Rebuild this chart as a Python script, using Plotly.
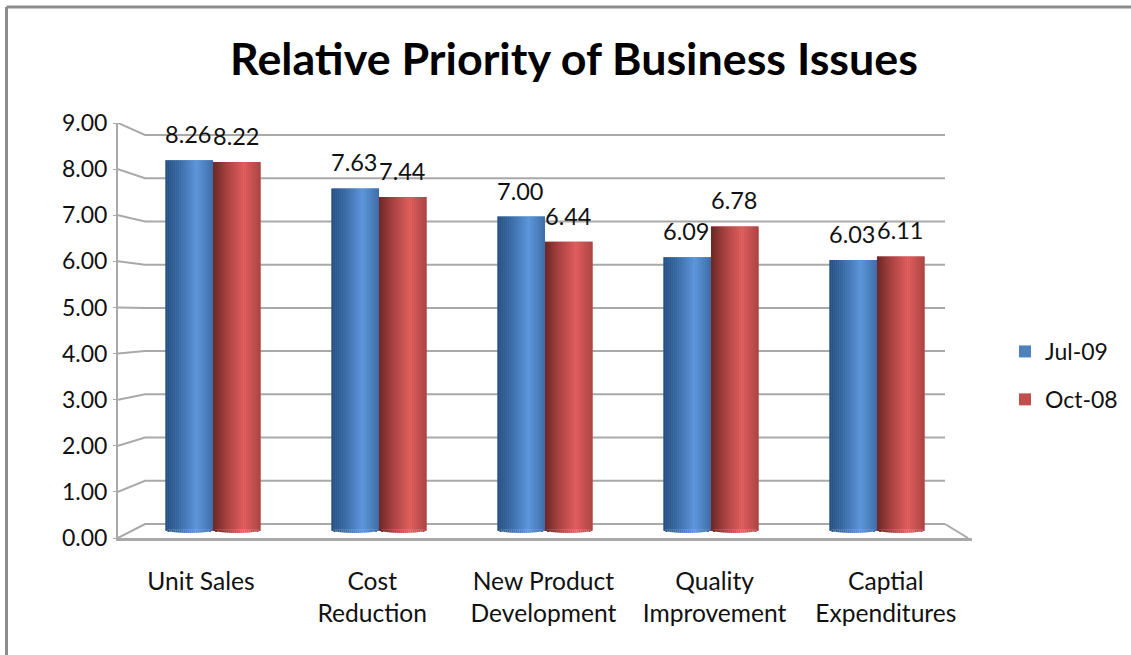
import plotly.graph_objects as go

W, H = 1131, 655
FONT = "Lato"
TEXT = "#111111"
GRID = "#a9a9a9"

# Chart data
categories = ["Unit Sales", "Cost<br>Reduction", "New Product<br>Development",
              "Quality<br>Improvement", "Captial<br>Expenditures"]
series_names = ["Jul-09", "Oct-08"]
jul_09 = [8.26, 7.63, 7.00, 6.09, 6.03]
oct_08 = [8.22, 7.44, 6.44, 6.78, 6.11]
value_ticks = [0, 1, 2, 3, 4, 5, 6, 7, 8, 9]

# Cylinder shading: (position across the bar, colour)
blue_stops = [(0, (36, 78, 125)), (0.3, (58, 107, 165)), (0.65, (94, 151, 221)), (1, (62, 110, 168))]
red_stops = [(0, (107, 39, 37)), (0.3, (168, 66, 66)), (0.65, (227, 95, 95)), (1, (169, 68, 68))]
flat_colors = ["#4f81bd", "#c0504d"]

# Pixel frame of the chart
AX_L, AX_R, AX_B, AX_T = 118, 972, 538, 123
WALL_L, WALL_R, WALL_B, WALL_T = 145, 945, 524, 135
BAR_ZERO, BAR_SCALE = 529.5, 44.7
FOOT_PX = 3.5
STRIPS = 24
BAR_W = 0.286
CAT_0, CAT_STEP = 213, 166
# The category captions sit on a slightly wider pitch than the bar groups
LABEL_0, LABEL_STEP = 201, 171.2


def shade(stops, u):
    for (a, ca), (b, cb) in zip(stops, stops[1:]):
        if a <= u <= b:
            t = (u - a) / (b - a)
            return "rgb(%d,%d,%d)" % tuple(round(p + (q - p) * t) for p, q in zip(ca, cb))
    return "rgb(%d,%d,%d)" % stops[-1][1]


def to_x(px):
    return (px - CAT_0) / CAT_STEP


def to_y(px):
    # pixel row to the value scale of the outer axis
    return (AX_B - px) / ((AX_B - AX_T) / 9)


fig = go.Figure()

# Back wall, floor and the side panels that join them to the axes
wall_x, wall_y = [], []
for v in value_ticks:
    row = WALL_B - (WALL_B - WALL_T) * v / 9
    wall_x += [to_x(AX_L), to_x(WALL_L), to_x(WALL_R), None]
    wall_y += [v, to_y(row), to_y(row), None]
wall_x += [to_x(WALL_R), to_x(AX_R - 4)]
wall_y += [to_y(WALL_B), 0]
fig.add_trace(go.Scatter(x=wall_x, y=wall_y, mode="lines", showlegend=False, hoverinfo="skip",
                         line=dict(color=GRID, width=2), xaxis="x", yaxis="y"))

# Bars: a flat base for each series, with narrow strips over it for the round shading
for s, (name, values, stops) in enumerate(zip(series_names, [jul_09, oct_08], [blue_stops, red_stops])):
    centres = [i + (s - 0.5) * BAR_W for i in range(len(values))]
    fig.add_trace(go.Bar(x=centres, y=values, width=BAR_W, name=name, yaxis="y2", legendgroup=name,
                         marker=dict(color=flat_colors[s], line=dict(width=0))))
    for k in range(STRIPS):
        u = (k + 0.5) / STRIPS
        dx = (u - 0.5) * BAR_W
        color = shade(stops, u)
        depth = FOOT_PX / BAR_SCALE * (1 - (2 * u - 1) ** 2) ** 0.5
        xs = [c + dx for c in centres]
        fig.add_trace(go.Bar(x=xs, y=values, width=BAR_W / STRIPS * 1.05, yaxis="y2", showlegend=False,
                             legendgroup=name, hoverinfo="skip", marker=dict(color=color, line=dict(width=0))))
        fig.add_trace(go.Bar(x=xs, y=[depth] * len(xs), base=[-depth] * len(xs), width=BAR_W / STRIPS * 1.05,
                             yaxis="y2", showlegend=False, legendgroup=name, hoverinfo="skip",
                             marker=dict(color=color, line=dict(width=0))))

# Value labels above the bars
annotations = []
for s, values in enumerate([jul_09, oct_08]):
    for i, v in enumerate(values):
        annotations.append(dict(x=i + (s - 0.5) * BAR_W, y=v, xref="x", yref="y2", text=f"{v:.2f}",
                                showarrow=False, yshift=26, xshift=-1, xanchor="center", yanchor="middle",
                                font=dict(family=FONT, size=23.5, color=TEXT)))

# Page frame along the top and left
shapes = [
    dict(type="line", xref="paper", yref="paper", x0=6.5 / W, x1=1, y0=1 - 7 / H, y1=1 - 7 / H,
         line=dict(color="#8c8c8c", width=3)),
    dict(type="line", xref="paper", yref="paper", x0=6.5 / W, x1=6.5 / W, y0=0, y1=1 - 7 / H,
         line=dict(color="#8c8c8c", width=3)),
]

label_positions = [to_x(LABEL_0 + LABEL_STEP * i) for i in range(len(categories))]

fig.update_layout(
    width=W, height=H, autosize=False, margin=dict(l=0, r=0, t=0, b=0, autoexpand=False),
    paper_bgcolor="white", plot_bgcolor="white", barmode="overlay",
    font=dict(family=FONT, color=TEXT),
    title=dict(text="Relative Priority of Business Issues", x=574 / W, xanchor="center", xref="paper",
               y=1 - 59 / H, yanchor="middle", yref="container",
               font=dict(family=FONT, size=44.8, weight=700, color="#000000")),
    xaxis=dict(domain=[AX_L / W, AX_R / W], range=[to_x(AX_L), to_x(AX_R)], tickmode="array",
               tickvals=label_positions, ticktext=categories, showgrid=False, zeroline=False,
               showline=True, linecolor=GRID, linewidth=3, ticks="", tickangle=0,
               tickfont=dict(family=FONT, size=24.6, color=TEXT), ticklabelstandoff=19),
    yaxis=dict(domain=[1 - AX_B / H, 1 - AX_T / H], range=[0, 9], tickmode="array", tickvals=value_ticks,
               ticktext=[f"{v:.2f}" for v in value_ticks], showgrid=False, zeroline=False, showline=True,
               linecolor=GRID, linewidth=2, ticks="outside", ticklen=3, tickcolor=GRID,
               tickfont=dict(family=FONT, size=23, color=TEXT), ticklabelstandoff=1),
    yaxis2=dict(domain=[1 - AX_B / H, 1 - AX_T / H], overlaying="y", anchor="x",
                range=[(BAR_ZERO - AX_B) / BAR_SCALE, (BAR_ZERO - AX_T) / BAR_SCALE], visible=False),
    legend=dict(x=1005 / W, y=1 - 330 / H, xanchor="left", yanchor="top", bgcolor="rgba(0,0,0,0)",
                font=dict(family=FONT, size=23, color=TEXT), tracegroupgap=15, itemclick=False),
    annotations=annotations, shapes=shapes, showlegend=True,
)

fig.write_html("out.html")
